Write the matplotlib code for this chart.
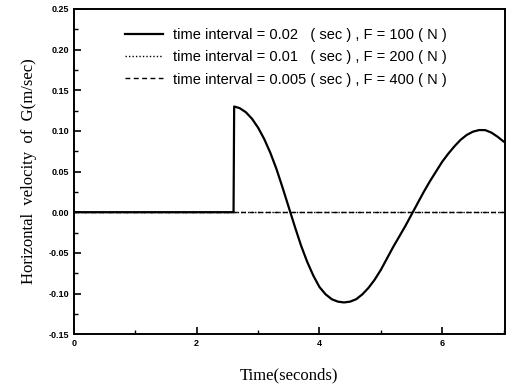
import matplotlib
matplotlib.use("Agg")
import matplotlib.pyplot as plt
from matplotlib.ticker import MultipleLocator, FormatStrFormatter

# solid curve (time interval 0.02 s, F = 100 N)
t_a = [0.0, 2.60, 2.61, 2.7, 2.8, 2.9, 3.0, 3.1, 3.2, 3.3, 3.4, 3.5, 3.6, 3.7,
       3.8, 3.9, 4.0, 4.1, 4.2, 4.3, 4.4, 4.5, 4.6, 4.7, 4.8, 4.9, 5.0, 5.1,
       5.2, 5.3, 5.4, 5.5, 5.6, 5.7, 5.8, 5.9, 6.0, 6.1, 6.2, 6.3, 6.4, 6.5,
       6.6, 6.7, 6.8, 6.9, 7.0, 7.02]
v_a = [0.0, 0.0, 0.130, 0.128, 0.123, 0.115, 0.104, 0.090, 0.073, 0.053,
       0.030, 0.006, -0.018, -0.041, -0.061, -0.078, -0.092, -0.101, -0.107,
       -0.110, -0.111, -0.110, -0.107, -0.101, -0.093, -0.083, -0.071, -0.057,
       -0.043, -0.030, -0.017, -0.003, 0.011, 0.025, 0.038, 0.050, 0.062,
       0.072, 0.081, 0.089, 0.095, 0.099, 0.101, 0.101, 0.098, 0.093, 0.087,
       0.086]

# dotted and dashed series sit on zero
t_b = [0.0, 7.02]
v_b = [0.0, 0.0]
t_c = [0.0, 7.02]
v_c = [0.0, 0.0]

labels = ["time interval = 0.02   ( sec ) , F = 100 ( N )",
          "time interval = 0.01   ( sec ) , F = 200 ( N )",
          "time interval = 0.005 ( sec ) , F = 400 ( N )"]

fig = plt.figure(figsize=(5.14, 3.89), dpi=100)
ax = fig.add_axes([0.144, 0.141, 0.838, 0.836])

ax.plot(t_a, v_a, color="black", lw=1.6, label=labels[0], solid_joinstyle="round")
ax.plot(t_b, v_b, color="black", lw=1.0, ls=(0, (1, 1.5)), label=labels[1])
ax.plot(t_c, v_c, color="black", lw=1.0, ls=(0, (3.5, 2.5)), label=labels[2])

ax.set_xlim(0, 7.02)
ax.set_ylim(-0.15, 0.25)
ax.xaxis.set_major_locator(MultipleLocator(2))
ax.xaxis.set_minor_locator(MultipleLocator(1))
ax.yaxis.set_major_locator(MultipleLocator(0.05))
ax.yaxis.set_minor_locator(MultipleLocator(0.025))
ax.yaxis.set_major_formatter(FormatStrFormatter("%.2f"))
ax.tick_params(which="both", direction="in", labelsize=6.5)
ax.tick_params(which="major", length=5, width=1.2)
ax.tick_params(which="minor", length=3, width=1.0)
for lab in ax.get_xticklabels() + ax.get_yticklabels():
    lab.set_fontweight("bold")
    lab.set_family("Liberation Sans")
for sp in ax.spines.values():
    sp.set_linewidth(1.4)

ax.set_xlabel("Time(seconds)", family="Liberation Serif", fontsize=12, labelpad=14)
ax.set_ylabel("Horizontal  velocity  of  G(m/sec)", family="Liberation Serif",
              fontsize=12, labelpad=8)

ax.legend(loc="upper left", bbox_to_anchor=(0.118, 0.94), frameon=False,
          prop={"family": "Liberation Sans", "size": 10.5},
          handlelength=2.6, handletextpad=0.68, labelspacing=0.55,
          borderpad=0, borderaxespad=0)

fig.savefig("out.png", dpi=100)
